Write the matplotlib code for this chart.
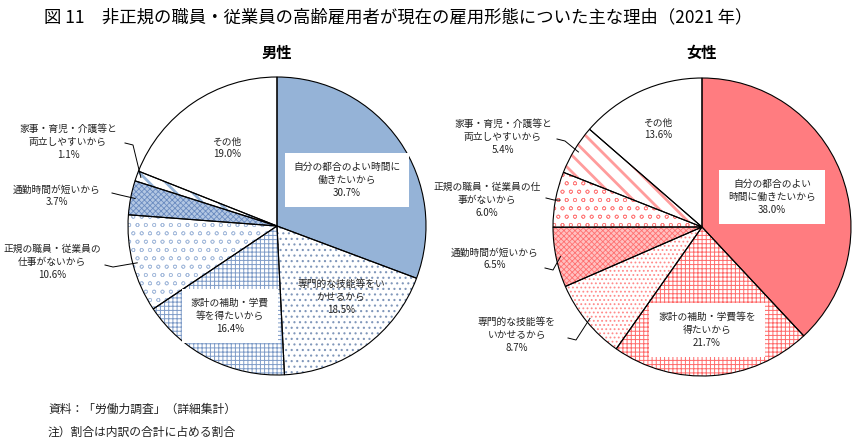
import math

import matplotlib.pyplot as plt

plt.rcParams['font.family'] = ['Noto Sans CJK JP', 'DejaVu Sans']

W, H = 856, 448

title = '図 11　非正規の職員・従業員の高齢雇用者が現在の雇用形態についた主な理由（2021 年）'
notes = ['資料：「労働力調査」（詳細集計）', '注）割合は内訳の合計に占める割合']

male_title = '男性'
male_labels = ['自分の都合のよい時間に\n働きたいから', '専門的な技能等をい\nかせるから',
               '家計の補助・学費\n等を得たいから', '正規の職員・従業員の\n仕事がないから',
               '通勤時間が短いから', '家事・育児・介護等と\n両立しやすいから', 'その他']
male_values = [30.7, 18.5, 16.4, 10.6, 3.7, 1.1, 19.0]

female_title = '女性'
female_labels = ['自分の都合のよい\n時間に働きたいから', '家計の補助・学費等を\n得たいから',
                 '専門的な技能等を\nいかせるから', '通勤時間が短いから',
                 '正規の職員・従業員の仕\n事がないから', '家事・育児・介護等と\n両立しやすいから', 'その他']
female_values = [38.0, 21.7, 8.7, 6.5, 6.0, 5.4, 13.6]

# styles: face colour, hatch, hatch colour, hatch width
male_style = [('#95B3D7', None, '#95B3D7', 0), ('white', '...', '#8097BA', 0.8),
              ('white', '++++', '#7F9CC8', 0.7), ('white', 'oo', '#A9BEDD', 0.5),
              ('#B3C7E3', 'xxxxxx', '#6A8BC0', 0.6), ('white', '\\\\', '#95B3D7', 2.0),
              ('white', None, 'white', 0)]
female_style = [('#FF7C80', None, '#FF7C80', 0), ('white', '++++', '#FF6A6A', 0.7),
                ('white', '....', '#FF8A8A', 0.8), ('#FFC0C0', 'xxxxxx', '#FF7070', 0.6),
                ('white', 'oo', '#FF8080', 0.5), ('white', '\\\\', '#FF9C9C', 2.0),
                ('white', None, 'white', 0)]

# layout in pixels (top-left origin)
male_center, female_center, radius = (277, 226), (702, 227), 149
male_text = [(347, 180, True), (341, 297, False), (230, 316, True), (52, 262, False),
             (57, 196, False), (68, 142, False), (227, 148, False)]
female_text = [(772, 197, True), (707, 330, True), (517, 335, False), (495, 259, False),
               (487, 200, False), (503, 137, False), (658, 129, False)]
male_leaders = {3: (105, 265), 4: (112, 193), 5: (125, 143)}
female_leaders = {2: (568, 338), 3: (545, 268), 4: (546, 198), 5: (557, 139)}

fig = plt.figure(figsize=(W / 100, H / 100), dpi=100)
ax = fig.add_axes([0, 0, 1, 1])


def draw_pie(center, values, labels, style, text_pos, leaders):
    c = (center[0], H - center[1])
    fills, _ = ax.pie(values, center=c, radius=radius, startangle=90, counterclock=False,
                      colors=[s[0] for s in style], wedgeprops=dict(linewidth=0))
    for w, s in zip(fills, style):
        if s[1]:
            w.set_hatch(s[1])
            w.set_edgecolor(s[2])
            try:
                w.set_hatch_linewidth(s[3])
            except AttributeError:
                pass
    edges, _ = ax.pie(values, center=c, radius=radius, startangle=90, counterclock=False,
                      wedgeprops=dict(fill=False, edgecolor='black', linewidth=0.8))
    for i, (lab, v) in enumerate(zip(labels, values)):
        x, y, boxed = text_pos[i]
        bbox = dict(boxstyle='square,pad=0.9', fc='white', ec='none') if boxed else None
        ax.text(x, H - y, f'{lab}\n{v:.1f}%', ha='center', va='center', fontsize=7,
                color='#222222', linespacing=1.35, bbox=bbox)
    for i, (sx, sy) in leaders.items():
        w = edges[i]
        mid = math.radians((w.theta1 + w.theta2) / 2)
        ex = c[0] + radius * 0.97 * math.cos(mid)
        ey = c[1] + radius * 0.97 * math.sin(mid)
        ax.plot([sx, sx + 8, ex], [H - sy, H - sy - 2, ey], color='black', lw=0.7)


draw_pie(male_center, male_values, male_labels, male_style, male_text, male_leaders)
draw_pie(female_center, female_values, female_labels, female_style, female_text, female_leaders)

ax.set_xlim(0, W)
ax.set_ylim(0, H)
ax.set_aspect('equal')
ax.axis('off')

ax.text(male_center[0], H - 53, male_title, ha='center', va='center', fontsize=11, fontweight='bold')
ax.text(female_center[0], H - 53, female_title, ha='center', va='center', fontsize=11, fontweight='bold')
ax.text(44, H - 17, title, ha='left', va='center', fontsize=12.5)
ax.text(48, H - 409, notes[0], ha='left', va='center', fontsize=8.5, color='#222222')
ax.text(48, H - 432, notes[1], ha='left', va='center', fontsize=8.5, color='#222222')

fig.savefig('out.png', dpi=100, facecolor='white')
